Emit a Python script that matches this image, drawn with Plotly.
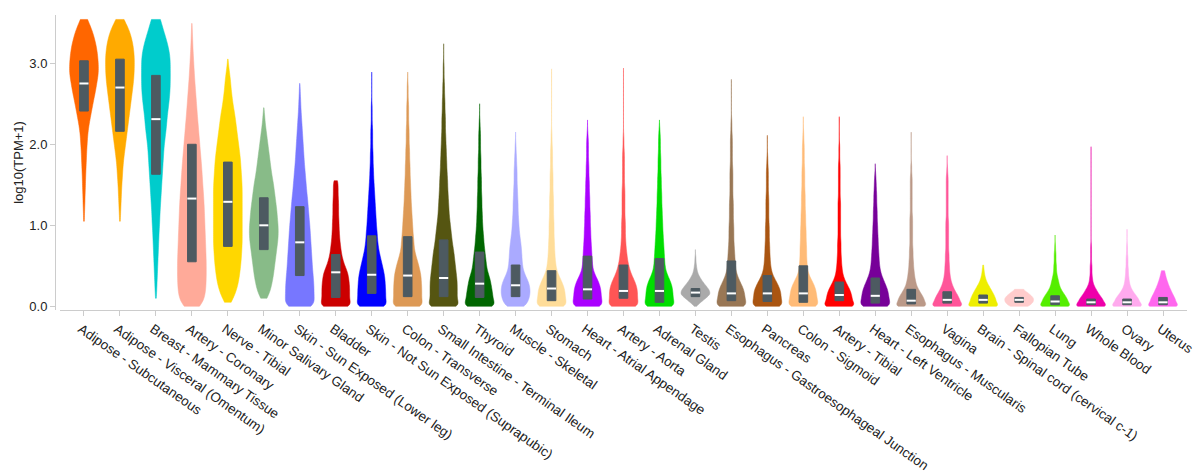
import numpy as np
import plotly.graph_objects as go

tissues = [
    "Adipose - Subcutaneous", "Adipose - Visceral (Omentum)", "Breast - Mammary Tissue",
    "Artery - Coronary", "Nerve - Tibial", "Minor Salivary Gland",
    "Skin - Sun Exposed (Lower leg)", "Bladder", "Skin - Not Sun Exposed (Suprapubic)",
    "Colon - Transverse", "Small Intestine - Terminal Ileum", "Thyroid", "Muscle - Skeletal",
    "Stomach", "Heart - Atrial Appendage", "Artery - Aorta", "Adrenal Gland", "Testis",
    "Esophagus - Gastroesophageal Junction", "Pancreas", "Colon - Sigmoid", "Artery - Tibial",
    "Heart - Left Ventricle", "Esophagus - Muscularis", "Vagina",
    "Brain - Spinal cord (cervical c-1)", "Fallopian Tube", "Lung", "Whole Blood", "Ovary", "Uterus",
]

colors = [
    "#ff6600", "#ffaa00", "#00cccc", "#ffaa99", "#ffd700", "#88bb88", "#7777ff", "#cc0000",
    "#0000ff", "#dd9955", "#555511", "#006600", "#aaaaff", "#ffdd99", "#aa00ff", "#ff5555",
    "#00dd00", "#aaaaaa", "#997755", "#aa5511", "#ffbb77", "#ff0000", "#770099", "#bb9988",
    "#ff5599", "#eeee00", "#ffcccc", "#55ee00", "#ee00aa", "#ffaaee", "#ff66ee",
]

# expression bins, log10(TPM+1)
bins = [0.00, 0.05, 0.10, 0.15, 0.20, 0.25, 0.30, 0.35, 0.40, 0.45,
        0.50, 0.55, 0.60, 0.65, 0.70, 0.75, 0.80, 0.85, 0.90, 0.95,
        1.00, 1.05, 1.10, 1.15, 1.20, 1.25, 1.30, 1.35, 1.40, 1.45,
        1.50, 1.55, 1.60, 1.65, 1.70, 1.75, 1.80, 1.85, 1.90, 1.95,
        2.00, 2.05, 2.10, 2.15, 2.20, 2.25, 2.30, 2.35, 2.40, 2.45,
        2.50, 2.55, 2.60, 2.65, 2.70, 2.75, 2.80, 2.85, 2.90, 2.95,
        3.00, 3.05, 3.10, 3.15, 3.20, 3.25, 3.30, 3.35, 3.40, 3.45,
        3.50, 3.55, 3.60, 3.65]

# sample counts per bin
adipose_subcutaneous = [0] * 21 + [1, 1, 1, 1, 2, 2, 2, 2, 3, 3, 3, 3, 4, 4, 4, 5, 5, 5, 6, 6, 7, 7, 8, 9, 10, 12, 13, 15, 16, 18,
                                   19, 21, 23, 24, 25, 27, 28, 29, 29, 28, 28, 27, 26, 25, 23, 21, 19, 17, 13, 10, 6, 3]
adipose_visceral = [0] * 21 + [1, 1, 1, 2, 2, 2, 3, 3, 3, 4, 4, 5, 5, 6, 6, 7, 8, 9, 10, 11, 12, 13, 14, 15, 16, 17, 18, 19, 20, 21,
                               22, 23, 24, 25, 26, 27, 27, 28, 28, 28, 28, 28, 27, 26, 25, 23, 21, 19, 15, 11, 7, 3]
breast = [0, 0, 1, 1, 2, 2, 2, 3, 3, 3, 4, 4, 4, 5, 5, 5, 6, 6, 6, 7, 7, 8, 8, 8, 9, 9, 10, 10, 11, 11, 12, 12,
          13, 13, 14, 14, 15, 15, 16, 16, 17, 18, 19, 20, 21, 22, 22, 23, 24, 25, 26, 27,
          28, 28, 29, 29, 29, 29, 29, 29, 29, 29, 28, 27, 25, 23, 21, 18, 16, 13, 11, 9, 6, 3]
artery_coronary = [26, 26, 28, 30, 31, 31, 32, 32, 32, 32, 32, 32, 32, 31, 31, 31, 30, 30, 30, 29,
                   29, 29, 28, 28, 28, 27, 27, 26, 26, 25, 24, 24, 23, 23, 22, 21, 21, 20, 19, 18,
                   18, 17, 16, 15, 15, 14, 13, 12, 12, 11, 10, 10, 9, 8, 8, 7, 6, 6, 5, 5,
                   4, 4, 3, 3, 2, 2, 2, 1, 1, 1]
nerve_tibial = [0, 7, 11, 14, 17, 19, 21, 22, 23, 24, 25, 26, 26, 27, 27, 28, 28, 28, 28, 28,
                28, 28, 28, 28, 28, 28, 28, 28, 28, 28, 28, 27, 27, 26, 26, 25, 25, 24, 23, 22,
                21, 20, 19, 18, 17, 16, 15, 14, 13, 11, 10, 9, 8, 7, 6, 6, 5, 4, 3, 2, 1]
minor_salivary = [0, 0, 7, 10, 13, 15, 16, 18, 19, 20, 21, 22, 23, 24, 25, 26, 27, 28, 28, 28,
                  28, 27, 26, 26, 25, 24, 23, 22, 21, 20, 19, 18, 16, 15, 14, 13, 12, 11, 10, 9,
                  8, 7, 6, 5, 4, 3, 2, 2, 1]
skin_sun = [36, 28, 28, 28, 28, 28, 27, 27, 26, 25, 25, 24, 24, 23, 23, 22, 22, 21, 21, 20,
            20, 19, 18, 18, 17, 16, 16, 15, 14, 13, 13, 12, 11, 11, 10, 9, 9, 8, 8, 7,
            7, 6, 6, 5, 5, 4, 4, 3, 3, 2, 2, 2, 1, 1, 1]
bladder = [42, 28, 29, 29, 29, 29, 28, 27, 26, 23, 19, 16, 14, 12, 11, 10, 9, 8, 8, 7,
           7, 7, 6, 6, 6, 6, 6, 5, 5, 5, 5, 5]
skin_not_sun = [42, 29, 30, 30, 30, 29, 29, 28, 27, 25, 23, 21, 19, 17, 15, 14, 13, 12, 12, 11,
                10, 10, 9, 9, 8, 8, 7, 7, 6, 6, 5, 5, 4, 4, 4, 3, 3, 3, 3, 2,
                2, 2, 2, 2, 2, 1, 1, 1, 1, 1, 1]
colon_transverse = [40, 28, 29, 29, 29, 29, 28, 28, 27, 25, 23, 21, 18, 16, 14, 13, 13, 12, 11, 11,
                    10, 10, 9, 9, 8, 8, 7, 7, 7, 6, 6, 6, 5, 5, 5, 5, 4, 4, 4, 4,
                    3, 3, 3, 3, 3, 2, 2, 2, 2, 2, 2, 1, 1, 1, 1, 1]
small_intestine = [46, 29, 30, 30, 30, 30, 30, 29, 28, 27, 26, 25, 24, 23, 22, 20, 19, 18, 17, 16,
                   15, 14, 13, 12, 12, 11, 11, 10, 10, 9, 9, 9, 8, 8, 7, 7, 7, 6, 6, 6,
                   5, 5, 5, 4, 4, 4, 4, 4, 3, 3, 3, 3, 2, 2, 2, 2, 1, 1, 1, 1, 1]
thyroid = [44, 29, 29, 28, 27, 25, 24, 22, 19, 16, 15, 14, 13, 12, 11, 10, 9, 9, 8, 7,
           7, 6, 6, 6, 5, 5, 5, 5, 4, 4, 4, 4, 4, 3, 3, 3, 3, 3, 2, 2,
           2, 2, 2, 2, 1, 1, 1]
muscle_skeletal = [22, 24, 27, 29, 29, 28, 26, 22, 18, 15, 14, 13, 13, 12, 12, 11, 10, 9, 8, 7,
                   7, 6, 6, 5, 5, 5, 5, 4, 4, 4, 3, 3, 3, 3, 3, 2, 2, 2, 1, 1, 1]
stomach = [38, 28, 28, 27, 27, 24, 21, 17, 13, 10, 9, 8, 7, 7, 6, 6, 6, 5, 5, 5,
           5, 5, 4, 4, 4, 4, 4, 4, 3, 3, 3, 3, 3, 3, 2, 2, 2, 2, 2, 2, 1, 1, 1, 1]
heart_atrial = [40, 30, 30, 29, 29, 27, 24, 20, 15, 12, 11, 10, 10, 9, 9, 8, 8, 7, 7, 7,
                6, 6, 6, 6, 5, 5, 5, 5, 4, 4, 4, 4, 3, 3, 3, 3, 2, 2, 2, 2, 2, 2, 1, 1]
artery_aorta = [40, 28, 29, 29, 29, 27, 24, 20, 16, 13, 11, 9, 8, 7, 6, 5, 5, 4, 4, 4,
                4, 4, 3, 3, 3, 3, 3, 3, 3, 3, 2, 2, 2, 2, 2, 2, 2, 2, 2, 1, 1, 1, 1]
adrenal = [42, 29, 29, 29, 28, 27, 24, 20, 16, 13, 12, 11, 11, 10, 10, 9, 9, 8, 8, 7,
           7, 7, 6, 6, 6, 5, 5, 5, 5, 4, 4, 4, 4, 3, 3, 3, 3, 3, 2, 2, 2, 2, 2, 1, 1]
testis = [1, 10, 19, 28, 26, 20, 14, 9, 5, 3, 2, 1, 1]
esophagus_gej = [40, 28, 28, 27, 26, 22, 18, 14, 11, 9, 8, 8, 7, 7, 6, 6, 5, 5, 5, 5,
                 5, 4, 4, 4, 4, 4, 4, 3, 3, 3, 3, 3, 3, 3, 3, 2, 2, 2, 2, 2, 2, 2, 2, 1, 1, 1, 1]
pancreas = [40, 28, 28, 28, 27, 23, 19, 14, 10, 8, 7, 6, 6, 5, 5, 5, 4, 4, 4, 4,
            4, 3, 3, 3, 3, 3, 3, 3, 2, 2, 2, 2, 2, 2, 2, 1, 1, 1]
colon_sigmoid = [42, 29, 29, 28, 27, 24, 20, 15, 11, 9, 8, 8, 7, 7, 7, 7, 6, 6, 6, 6,
                 5, 5, 5, 5, 4, 4, 4, 4, 4, 3, 3, 3, 3, 3, 3, 2, 2, 2, 2, 2, 2, 1, 1, 1]
artery_tibial = [44, 30, 30, 28, 25, 20, 15, 11, 8, 7, 6, 5, 5, 4, 4, 4, 4, 3, 3, 3,
                 3, 3, 3, 3, 3, 3, 3, 2, 2, 2, 2, 2, 2, 2, 2, 2, 1, 1, 1, 1, 1]
heart_lv = [40, 28, 28, 27, 26, 22, 19, 15, 12, 10, 9, 8, 8, 7, 7, 6, 6, 6, 5, 5,
            5, 4, 4, 4, 4, 3, 3, 3, 3, 2, 2, 2, 1, 1]
esophagus_muscularis = [38, 29, 28, 22, 17, 12, 10, 8, 7, 6, 5, 5, 4, 4, 4, 3, 3, 3, 3, 3,
                        3, 3, 3, 2, 2, 2, 2, 2, 2, 2, 2, 2, 2, 1, 1, 1]
vagina = [38, 28, 26, 21, 16, 12, 9, 7, 6, 5, 5, 4, 4, 4, 3, 3, 3, 3, 3, 3,
          3, 3, 2, 2, 2, 2, 2, 2, 2, 2, 2, 2, 2, 1, 1]
brain_spinal_cord = [36, 29, 27, 23, 18, 13, 8, 5, 3, 2, 1]
fallopian_tube = [16, 24, 25, 18, 8, 3]
lung = [36, 29, 26, 20, 14, 10, 8, 6, 4, 3, 3, 2, 2, 2, 1, 1]
whole_blood = [36, 28, 24, 17, 12, 7, 4, 3, 2, 2, 2, 1, 1, 1, 1, 1]
ovary = [36, 27, 24, 17, 11, 7, 5, 4, 3, 3, 2, 2, 2, 1, 1, 1]
uterus = [36, 28, 26, 21, 17, 13, 10, 7, 5, 3]

tissue_counts = [
    adipose_subcutaneous, adipose_visceral, breast, artery_coronary, nerve_tibial, minor_salivary,
    skin_sun, bladder, skin_not_sun, colon_transverse, small_intestine, thyroid, muscle_skeletal,
    stomach, heart_atrial, artery_aorta, adrenal, testis, esophagus_gej, pancreas, colon_sigmoid,
    artery_tibial, heart_lv, esophagus_muscularis, vagina, brain_spinal_cord, fallopian_tube,
    lung, whole_blood, ovary, uterus,
]

bandwidth = [0.07, 0.07, 0.07, 0.08, 0.07, 0.06, 0.06, 0.05, 0.05, 0.05, 0.05, 0.05, 0.05,
             0.05, 0.05, 0.05, 0.05, 0.03, 0.05, 0.05, 0.05, 0.04, 0.05, 0.035, 0.035,
             0.03, 0.03, 0.03, 0.03, 0.03, 0.03]

expr_min = [1.05, 1.05, 0.10, 0.0, 0.05, 0.10, 0.0, 0.0, 0.0, 0.0, 0.0, 0.0, 0.0, 0.0, 0.0, 0.0,
            0.0, 0.0, 0.0, 0.0, 0.0, 0.0, 0.0, 0.0, 0.0, 0.0, 0.0, 0.0, 0.0, 0.0, 0.0]
expr_max = [3.54, 3.54, 3.54, 3.49, 3.05, 2.45, 2.75, 1.55, 2.89, 2.89, 3.24, 2.50, 2.15, 2.93,
            2.30, 2.94, 2.30, 0.70, 2.80, 2.11, 2.34, 2.34, 1.76, 2.15, 1.86, 0.51, 0.21, 0.88,
            1.97, 0.95, 0.44]

q1 = [2.41, 2.16, 1.63, 0.55, 0.74, 0.70, 0.38, 0.11, 0.16, 0.12, 0.12, 0.11, 0.12, 0.07, 0.09,
      0.10, 0.05, 0.12, 0.07, 0.06, 0.05, 0.07, 0.04, 0.03, 0.04, 0.04, 0.05, 0.02, 0.02, 0.02, 0.02]
median = [2.75, 2.70, 2.31, 1.33, 1.29, 1.00, 0.79, 0.42, 0.39, 0.38, 0.35, 0.28, 0.26, 0.22, 0.21,
          0.19, 0.19, 0.17, 0.16, 0.16, 0.16, 0.14, 0.13, 0.07, 0.08, 0.08, 0.08, 0.06, 0.05, 0.05, 0.05]
q3 = [3.03, 3.05, 2.85, 2.00, 1.78, 1.34, 1.23, 0.64, 0.87, 0.86, 0.82, 0.67, 0.51, 0.44, 0.62,
      0.51, 0.59, 0.22, 0.56, 0.38, 0.50, 0.30, 0.35, 0.21, 0.18, 0.14, 0.11, 0.13, 0.09, 0.09, 0.11]

y_ticks = [0, 1, 2, 3]
y_tick_labels = ["0.0", "1.0", "2.0", "3.0"]


def faded(hex_color, alpha):
    h = hex_color.lstrip("#")
    r, g, b = int(h[0:2], 16), int(h[2:4], 16), int(h[4:6], 16)
    return f"rgba({r},{g},{b},{alpha})"


fig = go.Figure()
for name, col, cnt, bw, lo, hi in zip(tissues, colors, tissue_counts, bandwidth, expr_min, expr_max):
    samples = np.repeat(np.array(bins[:len(cnt)]), cnt)
    fig.add_trace(go.Violin(
        x=[name] * len(samples), y=samples, name=name,
        fillcolor=col, line=dict(color=faded(col, 0.5), width=1), opacity=1,
        width=0.8, scalemode="width", spanmode="manual", span=[lo, hi],
        bandwidth=bw, points=False, box_visible=False, meanline_visible=False,
        hoverinfo="skip", showlegend=False,
    ))

fig.add_trace(go.Box(
    x=tissues, q1=q1, median=median, q3=q3, lowerfence=q1, upperfence=q3,
    fillcolor="#4d5a61", line=dict(color="#4d5a61", width=1), width=0.24,
    whiskerwidth=0, boxpoints=False, hoverinfo="skip", showlegend=False,
))
fig.add_trace(go.Scatter(
    x=tissues, y=median, mode="markers",
    marker=dict(symbol="line-ew", size=6.5, color="white", line=dict(color="white", width=2)),
    hoverinfo="skip", showlegend=False,
))

fig.update_layout(
    width=1196, height=475,
    margin=dict(l=55, r=9, t=15, b=165, autoexpand=False),
    paper_bgcolor="white", plot_bgcolor="white",
    showlegend=False, violinmode="overlay", boxmode="overlay",
    font=dict(family="Liberation Sans, Arial, Helvetica, sans-serif", color="#222222", size=13),
)
fig.update_xaxes(
    type="category", categoryorder="array", categoryarray=tissues,
    range=[-0.667, 30.667], domain=[0.0044, 1], automargin=False,
    tickangle=35, tickfont=dict(size=13.5, color="#222222"), ticklabelshift=-3,
    ticks="outside", ticklen=5, tickcolor="#cccccc",
    showline=True, linecolor="#cccccc", linewidth=1,
    showgrid=False, zeroline=False,
)
fig.update_yaxes(
    range=[-0.045, 3.595], tickvals=y_ticks, ticktext=y_tick_labels, automargin=False,
    ticks="outside", ticklen=5, tickcolor="#cccccc",
    showline=True, linecolor="#cccccc", linewidth=1,
    showgrid=False, zeroline=False, anchor="free", position=0,
    tickfont=dict(size=13, color="#222222"),
    title=dict(text="log10(TPM+1)", font=dict(size=13, color="#222222"), standoff=1),
)

fig.write_html(
    "out.html",
    config={"displayModeBar": False},
    post_script="document.body.style.margin='0px';document.body.style.padding='0px';",
)
